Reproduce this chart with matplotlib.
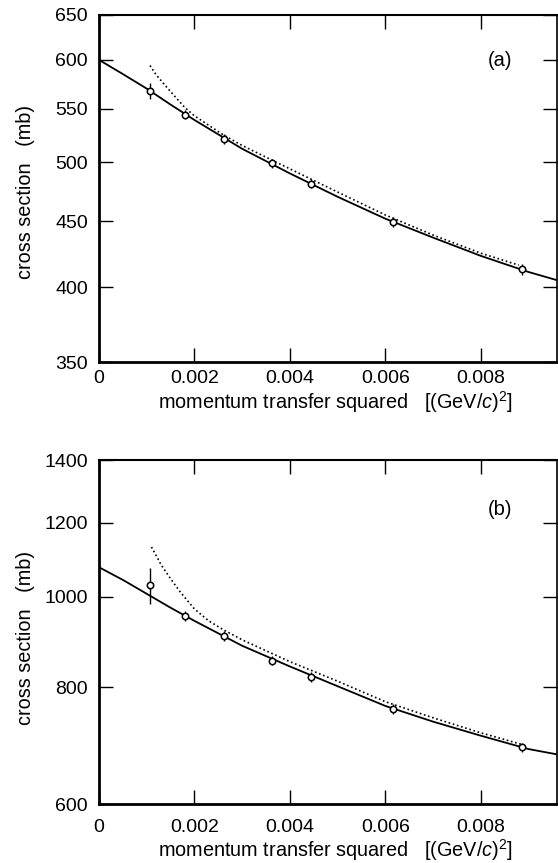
import matplotlib
matplotlib.use("Agg")
import matplotlib.pyplot as plt
from matplotlib.ticker import FixedLocator, NullLocator, FixedFormatter

plt.rcParams["font.family"] = ["Liberation Sans", "DejaVu Sans"]
plt.rcParams["mathtext.fontset"] = "custom"
plt.rcParams["mathtext.rm"] = "Liberation Sans"
plt.rcParams["mathtext.it"] = "Liberation Sans:italic"

# measured points: momentum transfer squared [(GeV/c)^2]
q_data = [0.00107, 0.0018, 0.00262, 0.00363, 0.00445, 0.00617, 0.00886]

# panel (a)
sig_a = [568, 544, 521, 499, 481, 449, 413]
err_a = [8, 4.5, 4.5, 4, 4, 4, 4]
q_fit_a = [0, 0.0005, 0.001, 0.0015, 0.002, 0.003, 0.004, 0.005, 0.006, 0.007, 0.008, 0.009, 0.0096]
fit_a = [600, 585, 570, 554, 539, 512, 490, 470, 452, 437, 423, 411, 405]
q_dot_a = [0.00107, 0.0012, 0.0015, 0.0018, 0.002, 0.0026, 0.003, 0.004, 0.005, 0.006, 0.007, 0.008, 0.0088]
dot_a = [594, 584, 567, 551, 543, 525, 515, 494, 474, 455, 439, 425, 416]

# panel (b)
sig_b = [1028, 953, 907, 854, 821, 758, 690]
err_b = [46, 11, 11, 10, 10, 9, 8]
q_fit_b = [0, 0.0005, 0.001, 0.0015, 0.002, 0.003, 0.004, 0.005, 0.006, 0.007, 0.008, 0.009, 0.0096]
fit_b = [1075, 1042, 1007, 973, 942, 886, 842, 802, 764, 735, 710, 687, 678]
q_dot_b = [0.0011, 0.0013, 0.0015, 0.0017, 0.002, 0.0023, 0.0026, 0.003, 0.004, 0.005, 0.006, 0.007, 0.008, 0.0089]
dot_b = [1130, 1082, 1045, 1012, 970, 942, 922, 899, 852, 812, 772, 742, 715, 694]

yticks_a = [350, 400, 450, 500, 550, 600, 650]
yticks_b = [600, 800, 1000, 1200, 1400]
xticks = [0, 0.002, 0.004, 0.006, 0.008]
xtick_labels = ["0", "0.002", "0.004", "0.006", "0.008"]

XLABEL = r"momentum transfer squared   [(GeV/$c$)$^2$]"
YLABEL = "cross section   (mb)"


def draw_panel(ax, sig, err, qf, fit, qd, dot, yticks, tag, tag_y, xpad, xlab_y, ylab_y):
    ax.plot(qf, fit, color="black", lw=1.3)
    ax.plot(qd, dot, color="black", lw=1.2, linestyle=(0, (1, 1.6)))
    ax.errorbar(q_data, sig, yerr=err, fmt="o", ms=4.6, mfc="white", mec="black",
                mew=1.1, ecolor="black", elinewidth=1.0, capsize=0, zorder=3)

    ax.set_yscale("log")
    ax.set_ylim(yticks[0], yticks[-1])
    ax.set_xlim(0, 0.0096)
    ax.yaxis.set_major_locator(FixedLocator(yticks))
    ax.yaxis.set_major_formatter(FixedFormatter([str(t) for t in yticks]))
    ax.yaxis.set_minor_locator(NullLocator())
    ax.set_xticks(xticks)
    ax.set_xticklabels(xtick_labels)

    ax.tick_params(direction="in", length=10, width=1.0, top=True, right=True,
                   labelsize=14, colors="black")
    ax.tick_params(axis="y", pad=8)
    ax.tick_params(axis="x", pad=xpad)
    ax.spines["left"].set_linewidth(2.0)
    ax.spines["bottom"].set_linewidth(2.0)
    ax.spines["top"].set_linewidth(1.5)
    ax.spines["right"].set_linewidth(1.2)

    ax.set_xlabel(XLABEL, fontsize=14.3)
    ax.xaxis.set_label_coords(0.517, xlab_y)
    ax.set_ylabel(YLABEL, fontsize=14.3)
    ax.yaxis.set_label_coords(-0.14, ylab_y)
    ax.text(0.876, tag_y, tag, transform=ax.transAxes, fontsize=14.5,
            ha="center", va="center")


fig = plt.figure(figsize=(5.58, 8.63), dpi=100)
ax_a = fig.add_axes([99 / 558, 1 - 362 / 863, 458 / 558, 347 / 863])
ax_b = fig.add_axes([99 / 558, 1 - 804 / 863, 458 / 558, 344 / 863])

draw_panel(ax_a, sig_a, err_a, q_fit_a, fit_a, q_dot_a, dot_a, yticks_a, "(a)", 0.87,
           5.5, -0.077, 0.49)
draw_panel(ax_b, sig_b, err_b, q_fit_b, fit_b, q_dot_b, dot_b, yticks_b, "(b)", 0.855,
           11, -0.097, 0.483)

fig.savefig("out.png", dpi=100)
